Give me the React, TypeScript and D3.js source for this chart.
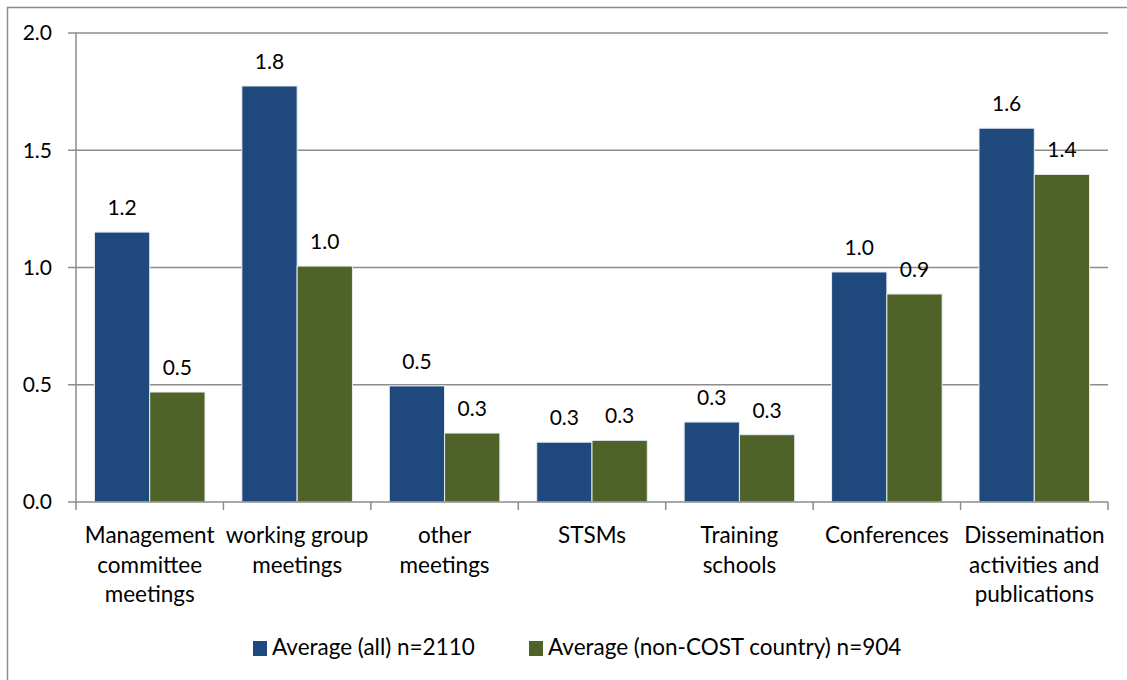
import * as d3 from "d3";
import { useEffect, useRef } from "react";

const categories = [
  ["Management", "committee", "meetings"],
  ["working group", "meetings"],
  ["other", "meetings"],
  ["STSMs"],
  ["Training", "schools"],
  ["Conferences"],
  ["Dissemination", "activities and", "publications"],
];
const seriesNames = ["Average (all) n=2110", "Average (non-COST country) n=904"];
const allValues = [1.151, 1.774, 0.495, 0.255, 0.341, 0.981, 1.594];
const nonCostValues = [0.469, 1.006, 0.294, 0.263, 0.287, 0.887, 1.397];
const yTicks = [0, 0.5, 1.0, 1.5, 2.0];
const colors = ["#1F497D", "#4F6228"];

const FONT = "Lato, 'Open Sans', sans-serif";

const App = () => {
  const svgRef = useRef<SVGSVGElement>(null);
  const width = 1127;
  const height = 680;

  useEffect(() => {
    const svg = d3.select(svgRef.current);
    svg.selectAll("*").remove();

    const margin = { top: 33, left: 76, right: 19, bottom: 178 };
    const innerW = width - margin.left - margin.right;
    const innerH = height - margin.top - margin.bottom;

    // outer chart frame
    svg.append("rect")
      .attr("x", 7.5).attr("y", 7.5)
      .attr("width", width + 20).attr("height", height + 20)
      .attr("fill", "#fff").attr("stroke", "#8c8c8c").attr("stroke-width", 1.5);

    const g = svg.append("g").attr("transform", `translate(${margin.left},${margin.top})`);

    const x0 = d3.scaleBand<number>().domain(d3.range(categories.length)).range([0, innerW]);
    const groupPad = x0.bandwidth() * 0.125;
    const x1 = d3.scaleBand<number>().domain([0, 1]).range([groupPad, x0.bandwidth() - groupPad]);
    const y = d3.scaleLinear().domain([0, 2]).range([innerH, 0]);

    // gridlines
    g.selectAll(".grid")
      .data(yTicks.filter((t) => t > 0))
      .join("line")
      .attr("x1", 0).attr("x2", innerW)
      .attr("y1", (d) => y(d)).attr("y2", (d) => y(d))
      .attr("stroke", "#8c8c8c").attr("stroke-width", 1.5);

    // y axis
    g.append("line")
      .attr("x1", 0).attr("x2", 0).attr("y1", 0).attr("y2", innerH)
      .attr("stroke", "#8c8c8c").attr("stroke-width", 1.5);
    g.selectAll(".ytick")
      .data(yTicks)
      .join("line")
      .attr("x1", -8).attr("x2", 0)
      .attr("y1", (d) => y(d)).attr("y2", (d) => y(d))
      .attr("stroke", "#8c8c8c").attr("stroke-width", 1.5);
    g.selectAll(".ylabel")
      .data(yTicks)
      .join("text")
      .attr("x", -24).attr("y", (d) => y(d))
      .attr("dy", "0.35em")
      .attr("text-anchor", "end")
      .attr("font-family", FONT).attr("font-size", 21)
      .text((d) => d3.format(".1f")(d));

    // bars + value labels
    const series = [allValues, nonCostValues];
    series.forEach((vals, si) => {
      g.selectAll(`.bar${si}`)
        .data(vals)
        .join("rect")
        .attr("x", (_, i) => x0(i)! + x1(si)!)
        .attr("y", (d) => y(d))
        .attr("width", x1.bandwidth())
        .attr("height", (d) => innerH - y(d))
        .attr("fill", colors[si])
        .attr("stroke", "#e8ecf2").attr("stroke-width", 1);

      g.selectAll(`.val${si}`)
        .data(vals)
        .join("text")
        .attr("x", (_, i) => x0(i)! + x1(si)! + x1.bandwidth() / 2)
        .attr("y", (d) => y(d) - 17)
        .attr("text-anchor", "middle")
        .attr("font-family", FONT).attr("font-size", 21)
        .text((d) => d3.format(".1f")(d));
    });

    // x axis
    g.append("line")
      .attr("x1", 0).attr("x2", innerW).attr("y1", innerH).attr("y2", innerH)
      .attr("stroke", "#8c8c8c").attr("stroke-width", 1.5);
    g.selectAll(".xtick")
      .data(d3.range(categories.length + 1))
      .join("line")
      .attr("x1", (d) => d * x0.step()).attr("x2", (d) => d * x0.step())
      .attr("y1", innerH).attr("y2", innerH + 8)
      .attr("stroke", "#8c8c8c").attr("stroke-width", 1.5);

    const labels = g.selectAll(".xlabel")
      .data(categories)
      .join("text")
      .attr("transform", (_, i) => `translate(${x0(i)! + x0.bandwidth() / 2},${innerH + 41})`)
      .attr("text-anchor", "middle")
      .attr("font-family", FONT).attr("font-size", 22.5);
    labels.selectAll("tspan")
      .data((d) => d)
      .join("tspan")
      .attr("x", 0)
      .attr("y", (_, j) => j * 29.5)
      .text((d) => d);

    // legend
    const legend = svg.append("g").attr("transform", "translate(0,655)");
    const legendX = [253, 529];
    seriesNames.forEach((name, si) => {
      legend.append("rect")
        .attr("x", legendX[si]).attr("y", -14)
        .attr("width", 14).attr("height", 15)
        .attr("fill", colors[si]);
      legend.append("text")
        .attr("x", legendX[si] + 19).attr("y", 0)
        .attr("font-family", FONT).attr("font-size", 22.5)
        .text(name);
    });
  }, []);

  return (
    <svg
      ref={svgRef}
      width={width}
      height={height}
      style={{ position: "absolute", left: 0, top: 0, background: "#fff" }}
    />
  );
};

export default App;
